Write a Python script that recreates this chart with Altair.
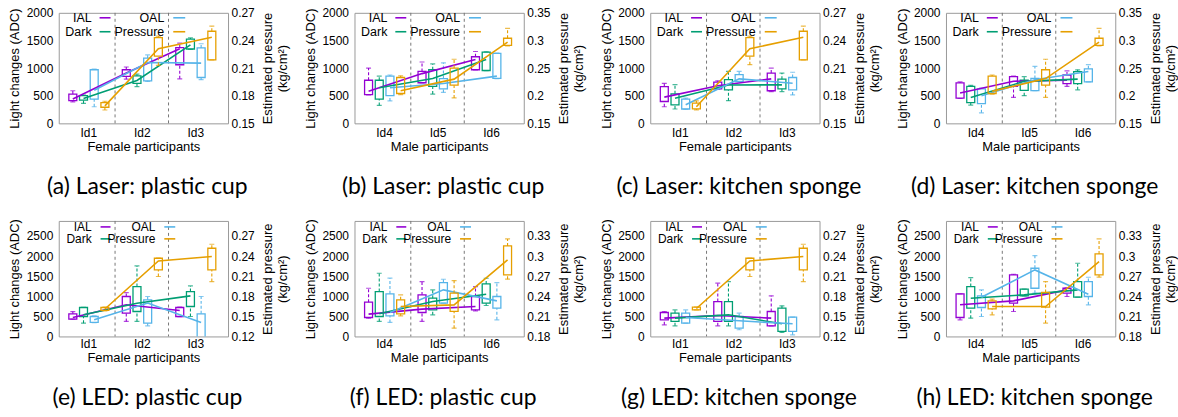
import altair as alt
import pandas as pd

SERIES = ["IAL", "Dark", "OAL", "Pressure"]
COLORS = ["#9400d3", "#009e73", "#56b4e9", "#e69f00"]
OFFSETS = [-0.29, -0.09, 0.11, 0.31]
FEMALE_IDS = ["Id1", "Id2", "Id3"]
MALE_IDS = ["Id4", "Id5", "Id6"]

# per participant: [low whisker, q1, median, q3, high whisker]
A_IAL = [[390, 410, 440, 530, 590], [800, 850, 910, 970, 1020], [806, 1060, 1350, 1370, 1450]]
A_DARK = [[360, 420, 450, 500, 510], [665, 725, 775, 860, 890], [1340, 1345, 1420, 1525, 1545]]
A_OAL = [[300, 440, 600, 970, 980], [757, 770, 1100, 1180, 1240], [790, 830, 1090, 1365, 1440]]
A_PRES = [[0.1645, 0.1675, 0.169, 0.1725, 0.174], [0.213, 0.223, 0.231, 0.243, 0.2446], [0.219, 0.219, 0.2435, 0.250, 0.2556]]

B_IAL = [[515, 520, 580, 780, 1000], [730, 735, 900, 940, 1110], [965, 970, 1155, 1205, 1300]]
B_DARK = [[325, 440, 645, 780, 855], [530, 670, 810, 970, 1075], [955, 956, 1155, 1290, 1295]]
B_OAL = [[405, 500, 645, 855, 875], [560, 625, 720, 810, 1095], [810, 812, 855, 1265, 1270]]
B_PRES = [[0.202, 0.204, 0.209, 0.233, 0.236], [0.196, 0.219, 0.23, 0.25, 0.266], [0.29, 0.291, 0.297, 0.304, 0.322]]

C_IAL = [[300, 395, 475, 665, 725], [620, 624, 680, 745, 770], [575, 590, 805, 910, 1000]]
C_DARK = [[260, 335, 455, 535, 700], [410, 605, 695, 790, 940], [575, 625, 697, 800, 910]]
C_OAL = [[255, 260, 335, 440, 455], [755, 757, 805, 880, 940], [515, 605, 727, 830, 925]]
C_PRES = [[0.1646, 0.1657, 0.168, 0.172, 0.1744], [0.2137, 0.223, 0.231, 0.243, 0.2446], [0.219, 0.219, 0.2435, 0.250, 0.2556]]

D_IAL = [[450, 456, 550, 731, 750], [470, 670, 762, 845, 856], [669, 719, 781, 875, 950]]
D_DARK = [[330, 375, 469, 669, 687], [500, 595, 760, 780, 845], [606, 719, 800, 937, 969]]
D_OAL = [[190, 356, 500, 625, 640], [590, 594, 790, 812, 1030], [750, 750, 937, 987, 1062]]
D_PRES = [[0.203, 0.204, 0.208, 0.2356, 0.2375], [0.197, 0.219, 0.231, 0.247, 0.266], [0.29, 0.291, 0.297, 0.304, 0.322]]

E_IAL = [[430, 432, 472, 563, 620], [373, 580, 787, 994, 1093], [495, 497, 646, 720, 730]]
E_DARK = [[330, 497, 538, 720, 722], [373, 621, 828, 1242, 1755], [497, 745, 1010, 1118, 1258]]
E_OAL = [[345, 348, 414, 497, 510], [265, 331, 830, 911, 994], [-150, -60, 348, 563, 994]]
E_PRES = [[0.158, 0.1588, 0.161, 0.1632, 0.164], [0.2095, 0.2194, 0.2328, 0.2368, 0.237], [0.202, 0.2194, 0.2393, 0.2517, 0.2577]]

F_IAL = [[455, 472, 555, 853, 1200], [373, 596, 679, 1035, 1366], [637, 662, 745, 994, 1242]]
F_DARK = [[373, 497, 563, 1118, 1573], [538, 662, 869, 952, 1159], [770, 828, 1052, 1308, 1449]]
F_OAL = [[348, 513, 596, 1060, 1450], [828, 828, 1159, 1341, 1424], [414, 704, 886, 994, 1341]]
F_PRES = [[0.2108, 0.2138, 0.2247, 0.2347, 0.2421], [0.1924, 0.2173, 0.2272, 0.2446, 0.2635], [0.2655, 0.2719, 0.2943, 0.3152, 0.3256]]

G_IAL = [[290, 414, 455, 596, 621], [265, 373, 522, 869, 1325], [265, 265, 455, 621, 1010]]
G_DARK = [[265, 373, 455, 580, 662], [265, 373, 538, 869, 1366], [99, 124, 315, 704, 762]]
G_OAL = [[331, 331, 472, 580, 662], [166, 207, 389, 497, 580], [41, 124, 315, 480, 482]]
G_PRES = [[0.1598, 0.1598, 0.1617, 0.1637, 0.164], [0.2095, 0.2194, 0.2328, 0.2368, 0.237], [0.202, 0.2194, 0.2393, 0.2517, 0.2577]]

H_IAL = [[414, 472, 787, 1060, 1062], [621, 828, 886, 1532, 1548], [994, 1076, 1159, 1200, 1210]]
H_DARK = [[455, 704, 952, 1242, 1466], [1008, 1010, 1035, 1176, 1180], [977, 977, 1159, 1366, 1822]]
H_OAL = [[497, 720, 977, 1010, 1159], [1076, 1200, 1656, 1697, 2012], [787, 994, 1052, 1366, 1474]]
H_PRES = [[0.2123, 0.2213, 0.2247, 0.2332, 0.2357], [0.1999, 0.2237, 0.2247, 0.2456, 0.262], [0.2685, 0.2719, 0.2918, 0.3033, 0.3256]]

SEPARATORS = [0.5, 1.5]

TOP_LEFT_TICKS = [0, 500, 1000, 1500, 2000]
BOT_LEFT_TICKS = [0, 500, 1000, 1500, 2000, 2500]

PANELS = [
    dict(cap="(a) Laser: plastic cup", ids=FEMALE_IDS, xt="Female participants", data=[A_IAL, A_DARK, A_OAL, A_PRES],
         ld=[0, 2000], lt=TOP_LEFT_TICKS, rd=[0.15, 0.27], rt=[0.15, 0.18, 0.21, 0.24, 0.27]),
    dict(cap="(b) Laser: plastic cup", ids=MALE_IDS, xt="Male participants", data=[B_IAL, B_DARK, B_OAL, B_PRES],
         ld=[0, 2000], lt=TOP_LEFT_TICKS, rd=[0.15, 0.35], rt=[0.15, 0.2, 0.25, 0.3, 0.35]),
    dict(cap="(c) Laser: kitchen sponge", ids=FEMALE_IDS, xt="Female participants", data=[C_IAL, C_DARK, C_OAL, C_PRES],
         ld=[0, 2000], lt=TOP_LEFT_TICKS, rd=[0.15, 0.27], rt=[0.15, 0.18, 0.21, 0.24, 0.27]),
    dict(cap="(d) Laser: kitchen sponge", ids=MALE_IDS, xt="Male participants", data=[D_IAL, D_DARK, D_OAL, D_PRES],
         ld=[0, 2000], lt=TOP_LEFT_TICKS, rd=[0.15, 0.35], rt=[0.15, 0.2, 0.25, 0.3, 0.35]),
    dict(cap="(e) LED: plastic cup", ids=FEMALE_IDS, xt="Female participants", data=[E_IAL, E_DARK, E_OAL, E_PRES],
         ld=[0, 2875], lt=BOT_LEFT_TICKS, rd=[0.12, 0.2925], rt=[0.12, 0.15, 0.18, 0.21, 0.24, 0.27]),
    dict(cap="(f) LED: plastic cup", ids=MALE_IDS, xt="Male participants", data=[F_IAL, F_DARK, F_OAL, F_PRES],
         ld=[0, 2875], lt=BOT_LEFT_TICKS, rd=[0.18, 0.3525], rt=[0.18, 0.21, 0.24, 0.27, 0.3, 0.33]),
    dict(cap="(g) LED: kitchen sponge", ids=FEMALE_IDS, xt="Female participants", data=[G_IAL, G_DARK, G_OAL, G_PRES],
         ld=[0, 2875], lt=BOT_LEFT_TICKS, rd=[0.12, 0.2925], rt=[0.12, 0.15, 0.18, 0.21, 0.24, 0.27]),
    dict(cap="(h) LED: kitchen sponge", ids=MALE_IDS, xt="Male participants", data=[H_IAL, H_DARK, H_OAL, H_PRES],
         ld=[0, 2875], lt=BOT_LEFT_TICKS, rd=[0.18, 0.3525], rt=[0.18, 0.21, 0.24, 0.27, 0.3, 0.33]),
]

AX_FONT = "Liberation Sans"
CAP_FONT = "Lato"
W = 170
XDOM = [-0.46, 2.52]


def frame(series_idx, rows):
    recs = []
    for si in series_idx:
        for pi, v in enumerate(rows[si]):
            recs.append(dict(series=SERIES[si], x=pi + OFFSETS[si], lo=v[0], q1=v[1], med=v[2], q3=v[3], hi=v[4]))
    return pd.DataFrame(recs)


def group(df, yscale, yaxis, xenc, sep=False):
    color = alt.Color("series:N", scale=alt.Scale(domain=SERIES, range=COLORS), legend=None)
    stroke = alt.Stroke("series:N", scale=alt.Scale(domain=SERIES, range=COLORS), legend=None)
    base = alt.Chart(df)
    Y = lambda f: alt.Y(f, type="quantitative", scale=yscale, axis=yaxis)
    xs = alt.Scale(domain=XDOM, nice=False, zero=False)
    layers = []
    if sep:
        layers.append(alt.Chart(pd.DataFrame({"s": SEPARATORS})).mark_rule(
            color="#777777", strokeDash=[3, 3], strokeWidth=1).encode(
            x=alt.X("s:Q", scale=xs, axis=xenc)))
    xq = alt.X("x:Q", scale=xs, axis=xenc)
    layers += [
        base.mark_rule(strokeDash=[3, 2], strokeWidth=1.1, clip=True).encode(x=xq, y=Y("lo"), y2="q1:Q", color=color),
        base.mark_rule(strokeDash=[3, 2], strokeWidth=1.1, clip=True).encode(x=xq, y=Y("q3"), y2="hi:Q", color=color),
        base.mark_tick(orient="horizontal", size=5, thickness=1.2, clip=True).encode(x=xq, y=Y("lo"), color=color),
        base.mark_tick(orient="horizontal", size=5, thickness=1.2, clip=True).encode(x=xq, y=Y("hi"), color=color),
        base.mark_bar(size=8, fill="transparent", strokeWidth=1.3, clip=True).encode(
            x=xq, y=Y("q1"), y2="q3:Q", stroke=stroke),
        base.mark_line(strokeWidth=1.6, clip=True).encode(x=xq, y=Y("med"), color=color, detail="series:N"),
    ]
    return alt.layer(*layers)


def legend_layers(top):
    items = []
    ys = [5, 19] if top else [6, 18]
    tx = [33, 106] if top else [33, 97]
    lx = [[41, 52], [115, 127]] if top else [[42, 52], [106, 117]]
    fs = 12.5 if top else 12
    pos = [(0, 0), (0, 1), (1, 0), (1, 1)]
    for s, c, (col, row) in zip(SERIES, COLORS, pos):
        items.append(alt.Chart(pd.DataFrame({"t": [s]})).mark_text(
            align="right", baseline="middle", font=AX_FONT, fontSize=fs, color="black").encode(
            text="t:N", x=alt.value(tx[col]), y=alt.value(ys[row])))
        items.append(alt.Chart(pd.DataFrame({"t": [s]})).mark_rule(color=c, strokeWidth=1.6).encode(
            x=alt.value(lx[col][0]), x2=alt.value(lx[col][1]), y=alt.value(ys[row])))
    return items


def panel(p, h, top):
    rows = p["data"]
    lab = "[" + ",".join("'%s'" % s for s in p["ids"]) + "][datum.value]"
    xaxis = alt.Axis(values=[0, 1, 2], labelExpr=lab, title=p["xt"], grid=False, ticks=False,
                     labelPadding=4 if top else 2, titlePadding=2)
    lscale = alt.Scale(domain=p["ld"], nice=False, zero=False)
    rscale = alt.Scale(domain=p["rd"], nice=False, zero=False)
    laxis = alt.Axis(values=p["lt"], format="d", title="Light changes (ADC)", grid=False, ticks=False,
                     labelPadding=6, titlePadding=5, minExtent=32, maxExtent=32)
    raxis = alt.Axis(orient="right", values=p["rt"], format="~g", title=["Estimated pressure", "(kg/cm²)"],
                     grid=False, ticks=False, labelPadding=3, titlePadding=5, titleAngle=270,
                     titleBaseline="bottom", minExtent=27, maxExtent=27)
    left = group(frame([0, 1, 2], rows), lscale, laxis, xaxis, sep=True)
    right = group(frame([3], rows), rscale, raxis, xaxis)
    ch = alt.layer(left, right, *legend_layers(top)).resolve_scale(y="independent").properties(
        width=W, height=h,
        title=alt.TitleParams(p["cap"], orient="bottom", font=CAP_FONT, fontSize=23, fontWeight="normal",
                              color="black", offset=23, frame="group", anchor="middle", dx=4))
    return ch


row1 = alt.hconcat(*[panel(p, 111, True) for p in PANELS[:4]], spacing=13)
row2 = alt.hconcat(*[panel(p, 116, False) for p in PANELS[4:]], spacing=13)
chart = alt.vconcat(row1, row2, spacing=18).properties(
    padding={"left": 8, "top": 5, "right": 0, "bottom": 0}
).configure_view(stroke="#999999", strokeWidth=1).configure_axis(
    labelFont=AX_FONT, titleFont=AX_FONT, labelFontSize=12, titleFontSize=13,
    labelColor="black", titleColor="black", titleFontWeight="normal", domain=False
).configure_concat(spacing=13)

chart.save("out.html", embed_options={"renderer": "svg", "actions": False})
